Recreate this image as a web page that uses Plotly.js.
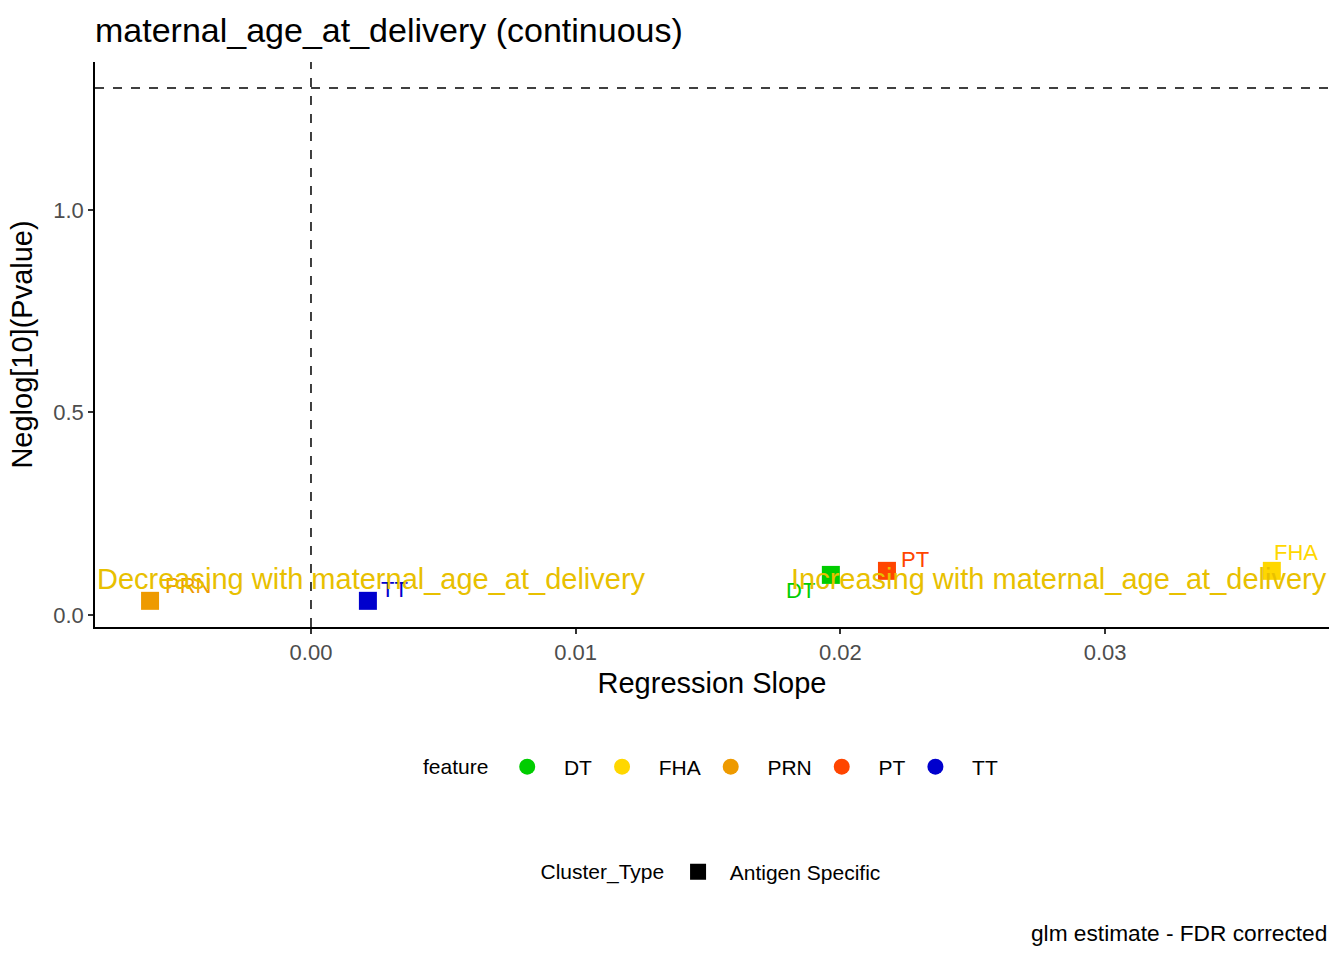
<!doctype html>
<html>
<head>
  <meta charset="utf-8">
  <title>maternal_age_at_delivery (continuous)</title>
  <script src="https://cdn.plot.ly/plotly-3.0.1.min.js"></script>
  <style>
    body { margin: 0; background: #fff; }
  </style>
</head>
<body>
  <div id="plot" style="width:1344px;height:960px"></div>
  <script>
      // data
      var features = ['DT', 'FHA', 'PRN', 'PT', 'TT'];
      var slopes = [0.01964, 0.0363, -0.00608, 0.02176, 0.00215];
      var neglogP = [0.099, 0.109, 0.035, 0.109, 0.035];
      var colours = ['#00CD00', '#FFD700', '#EE9A00', '#FF4500', '#0000CD'];
      var clusterTypes = ['Antigen Specific'];

      // repel-style nudges for the point labels (pixels, x right / y up)
      var nudgeX = [-30, 24, 38, 28, 27];
      var nudgeY = [-16, 18, 15, 11, 11];

      var pThreshold = -Math.log10(0.05); // horizontal dashed line
      var slopeZero = 0;                   // vertical dashed line
      var directionY = 0.089;              // height of the direction notes

      var font = 'Liberation Sans, Arial, sans-serif';
      var pad = '\u00A0\u00A0'; // wider gap between legend key and its text
      var data = [];
      var labels = [];

      // one trace per feature: squares on the plot, circles in the legend
      features.forEach(function(f, i) {
        data.push({
          x: [slopes[i]], y: [neglogP[i]],
          mode: 'markers', type: 'scatter',
          marker: {symbol: 'square', size: 18, color: colours[i]},
          showlegend: false, cliponaxis: false, hoverinfo: 'x+y+text', text: [f]
        });
        data.push({
          x: [null], y: [null], name: pad + f,
          mode: 'markers', type: 'scatter',
          marker: {symbol: 'circle', size: 18, color: colours[i]},
          legend: 'legend'
        });
        labels.push({
          text: f, x: slopes[i], y: neglogP[i], xref: 'x', yref: 'y',
          xshift: nudgeX[i], yshift: nudgeY[i], showarrow: false,
          font: {size: 22, color: colours[i]}
        });
      });

      clusterTypes.forEach(function(c) {
        data.push({
          x: [null], y: [null], name: pad + c,
          mode: 'markers', type: 'scatter',
          marker: {symbol: 'square', size: 18, color: '#000'},
          legend: 'legend2'
        });
      });

      var layout = {
        width: 1344, height: 960,
        margin: {l: 95, r: 15, t: 62, b: 333},
        paper_bgcolor: '#fff', plot_bgcolor: '#fff',
        font: {family: font, color: '#000'},
        title: {
          text: 'maternal_age_at_delivery (continuous)',
          x: 95 / 1344, xanchor: 'left', y: 1 - 30 / 960, yanchor: 'middle',
          font: {size: 34, color: '#000'}
        },
        xaxis: {
          range: [-0.00816, 0.03846],
          tickvals: [0, 0.01, 0.02, 0.03], tickformat: '.2f',
          ticks: 'outside', ticklen: 5, tickcolor: '#333', tickwidth: 1.5,
          tickfont: {size: 22, color: '#4D4D4D'},
          showgrid: false, zeroline: false,
          showline: true, linecolor: '#000', linewidth: 1.5,
          title: {text: 'Regression Slope', font: {size: 29, color: '#000'}, standoff: 9}
        },
        yaxis: {
          range: [-0.0296, 1.365],
          tickvals: [0, 0.5, 1.0], tickformat: '.1f',
          ticks: 'outside', ticklen: 5, tickcolor: '#333', tickwidth: 1.5,
          tickfont: {size: 22, color: '#4D4D4D'},
          showgrid: false, zeroline: false,
          showline: true, linecolor: '#000', linewidth: 1.5,
          title: {text: 'Neglog[10](Pvalue)', font: {size: 29, color: '#000'}, standoff: 12}
        },
        shapes: [
          {type: 'line', xref: 'x', yref: 'paper', x0: slopeZero, x1: slopeZero, y0: 0, y1: 1,
           line: {color: '#000', width: 1.5, dash: 'dash'}},
          {type: 'line', xref: 'paper', yref: 'y', x0: 0, x1: 1, y0: pThreshold, y1: pThreshold,
           line: {color: '#000', width: 1.5, dash: 'dash'}}
        ],
        annotations: labels.concat([
          {text: 'Decreasing with maternal_age_at_delivery', xref: 'paper', x: 0, xanchor: 'left',
           yref: 'y', y: directionY, yanchor: 'middle', showarrow: false,
           font: {size: 29, color: '#E8C000'}},
          {text: 'Increasing with maternal_age_at_delivery', xref: 'paper', x: 1, xanchor: 'right',
           yref: 'y', y: directionY, yanchor: 'middle', showarrow: false,
           font: {size: 29, color: '#E8C000'}},
          {text: 'glm estimate - FDR corrected', xref: 'paper', x: 1, xanchor: 'right',
           yref: 'paper', y: (627 - 933) / 565, yanchor: 'middle', showarrow: false,
           font: {size: 22.7, color: '#000'}}
        ]),
        legend: {
          orientation: 'h', x: 0.5, xanchor: 'center', y: (627 - 767) / 565, yanchor: 'middle',
          title: {text: 'feature ', font: {size: 21}},
          font: {size: 21}, itemwidth: 40
        },
        legend2: {
          orientation: 'h', x: 0.5, xanchor: 'center', y: (627 - 872) / 565, yanchor: 'middle',
          title: {text: 'Cluster_Type ', font: {size: 21}},
          font: {size: 21}
        }
      };

      Plotly.newPlot('plot', data, layout, {displayModeBar: false});
  </script>
</body>
</html>
